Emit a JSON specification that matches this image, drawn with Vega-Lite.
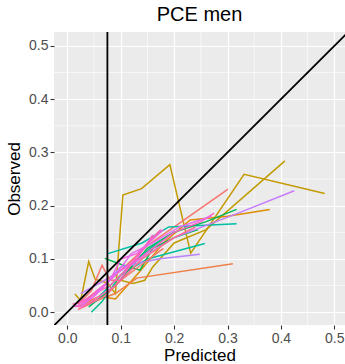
{
  "$schema": "https://vega.github.io/schema/vega-lite/v6.json",
  "width": 291,
  "height": 293,
  "autosize": {"type": "none"},
  "padding": {"left": 54, "top": 32, "right": 0, "bottom": 39},
  "background": "white",
  "title": {"text": "PCE men", "anchor": "middle", "frame": "group", "fontSize": 20, "font": "Liberation Sans", "fontWeight": "normal", "color": "black", "baseline": "alphabetic", "offset": -10},
  "config": {
    "view": {"fill": "#EBEBEB", "stroke": null},
    "axis": {"domain": false, "grid": true, "gridColor": "white", "gridWidth": 1.2, "tickColor": "#333333", "tickWidth": 1.1, "tickSize": 4, "labelColor": "#4D4D4D", "labelFont": "Liberation Sans", "labelFontSize": 14, "labelPadding": 2, "titleFont": "Liberation Sans", "titleFontSize": 17, "titleFontWeight": "normal", "titleColor": "black"}
  },
  "datasets": {
    "series": [
      {"g": "a", "x": 0.014, "y": 0.034}, {"g": "a", "x": 0.025, "y": 0.022}, {"g": "a", "x": 0.04, "y": 0.095}, {"g": "a", "x": 0.052, "y": 0.062}, {"g": "a", "x": 0.075, "y": 0.055}, {"g": "a", "x": 0.09, "y": 0.035}, {"g": "a", "x": 0.104, "y": 0.22}, {"g": "a", "x": 0.139, "y": 0.232}, {"g": "a", "x": 0.192, "y": 0.277}, {"g": "a", "x": 0.231, "y": 0.111}, {"g": "a", "x": 0.331, "y": 0.259}, {"g": "a", "x": 0.482, "y": 0.223},
      {"g": "b", "x": 0.03, "y": 0.01}, {"g": "b", "x": 0.07, "y": 0.03}, {"g": "b", "x": 0.1, "y": 0.06}, {"g": "b", "x": 0.123, "y": 0.054}, {"g": "b", "x": 0.145, "y": 0.06}, {"g": "b", "x": 0.16, "y": 0.085}, {"g": "b", "x": 0.2, "y": 0.13}, {"g": "b", "x": 0.26, "y": 0.155}, {"g": "b", "x": 0.4075, "y": 0.284},
      {"g": "c", "x": 0.02, "y": 0.01}, {"g": "c", "x": 0.06, "y": 0.03}, {"g": "c", "x": 0.09, "y": 0.025}, {"g": "c", "x": 0.13, "y": 0.07}, {"g": "c", "x": 0.18, "y": 0.13}, {"g": "c", "x": 0.23, "y": 0.173}, {"g": "c", "x": 0.3, "y": 0.18}, {"g": "c", "x": 0.379, "y": 0.193},
      {"g": "d", "x": 0.03, "y": 0.02}, {"g": "d", "x": 0.08, "y": 0.06}, {"g": "d", "x": 0.15, "y": 0.125}, {"g": "d", "x": 0.301, "y": 0.231},
      {"g": "e", "x": 0.02, "y": 0.01}, {"g": "e", "x": 0.05, "y": 0.02}, {"g": "e", "x": 0.09, "y": 0.035}, {"g": "e", "x": 0.13, "y": 0.064}, {"g": "e", "x": 0.31, "y": 0.091},
      {"g": "f", "x": 0.076, "y": 0.11}, {"g": "f", "x": 0.14, "y": 0.13}, {"g": "f", "x": 0.19, "y": 0.16}, {"g": "f", "x": 0.317, "y": 0.166},
      {"g": "h", "x": 0.06, "y": 0.03}, {"g": "h", "x": 0.1, "y": 0.07}, {"g": "h", "x": 0.15, "y": 0.1}, {"g": "h", "x": 0.2575, "y": 0.129},
      {"g": "i", "x": 0.04, "y": 0.01}, {"g": "i", "x": 0.09, "y": 0.05}, {"g": "i", "x": 0.15, "y": 0.12}, {"g": "i", "x": 0.2, "y": 0.15}, {"g": "i", "x": 0.26, "y": 0.17}, {"g": "i", "x": 0.317, "y": 0.193},
      {"g": "j", "x": 0.07, "y": 0.101}, {"g": "j", "x": 0.1, "y": 0.09}, {"g": "j", "x": 0.136, "y": 0.079}, {"g": "j", "x": 0.16, "y": 0.12}, {"g": "j", "x": 0.2, "y": 0.14}, {"g": "j", "x": 0.245, "y": 0.155},
      {"g": "k", "x": 0.045, "y": 0.0}, {"g": "k", "x": 0.065, "y": 0.02}, {"g": "k", "x": 0.1, "y": 0.07}, {"g": "k", "x": 0.13, "y": 0.1}, {"g": "k", "x": 0.175, "y": 0.135},
      {"g": "l", "x": 0.025, "y": 0.035}, {"g": "l", "x": 0.07, "y": 0.06}, {"g": "l", "x": 0.12, "y": 0.09}, {"g": "l", "x": 0.2, "y": 0.14}, {"g": "l", "x": 0.32, "y": 0.186}, {"g": "l", "x": 0.425, "y": 0.228},
      {"g": "m", "x": 0.02, "y": 0.015}, {"g": "m", "x": 0.06, "y": 0.04}, {"g": "m", "x": 0.1, "y": 0.085}, {"g": "m", "x": 0.17, "y": 0.1}, {"g": "m", "x": 0.248, "y": 0.109},
      {"g": "n", "x": 0.02, "y": 0.015}, {"g": "n", "x": 0.045, "y": 0.04}, {"g": "n", "x": 0.065, "y": 0.088}, {"g": "n", "x": 0.08, "y": 0.06}, {"g": "n", "x": 0.1, "y": 0.06}, {"g": "n", "x": 0.14, "y": 0.09}, {"g": "n", "x": 0.18, "y": 0.12},
      {"g": "o", "x": 0.012, "y": 0.012}, {"g": "o", "x": 0.03, "y": 0.01}, {"g": "o", "x": 0.06, "y": 0.03}, {"g": "o", "x": 0.09, "y": 0.05}, {"g": "o", "x": 0.12, "y": 0.09}, {"g": "o", "x": 0.16, "y": 0.12}, {"g": "o", "x": 0.2, "y": 0.15}, {"g": "o", "x": 0.25, "y": 0.17}, {"g": "o", "x": 0.275, "y": 0.186},
      {"g": "p", "x": 0.015, "y": 0.01}, {"g": "p", "x": 0.035, "y": 0.02}, {"g": "p", "x": 0.055, "y": 0.04}, {"g": "p", "x": 0.08, "y": 0.06}, {"g": "p", "x": 0.1, "y": 0.1}, {"g": "p", "x": 0.13, "y": 0.11}, {"g": "p", "x": 0.18, "y": 0.155},
      {"g": "q", "x": 0.02, "y": 0.005}, {"g": "q", "x": 0.04, "y": 0.015}, {"g": "q", "x": 0.07, "y": 0.03}, {"g": "q", "x": 0.1, "y": 0.06}, {"g": "q", "x": 0.14, "y": 0.1}, {"g": "q", "x": 0.2, "y": 0.14}, {"g": "q", "x": 0.24, "y": 0.16},
      {"g": "r", "x": 0.01, "y": 0.015}, {"g": "r", "x": 0.03, "y": 0.02}, {"g": "r", "x": 0.05, "y": 0.035}, {"g": "r", "x": 0.08, "y": 0.05}, {"g": "r", "x": 0.11, "y": 0.08}, {"g": "r", "x": 0.15, "y": 0.13}, {"g": "r", "x": 0.175, "y": 0.155},
      {"g": "s", "x": 0.02, "y": 0.02}, {"g": "s", "x": 0.045, "y": 0.025}, {"g": "s", "x": 0.07, "y": 0.05}, {"g": "s", "x": 0.095, "y": 0.075}, {"g": "s", "x": 0.13, "y": 0.1}, {"g": "s", "x": 0.16, "y": 0.145},
      {"g": "t", "x": 0.025, "y": 0.01}, {"g": "t", "x": 0.05, "y": 0.03}, {"g": "t", "x": 0.09, "y": 0.07}, {"g": "t", "x": 0.12, "y": 0.11}, {"g": "t", "x": 0.16, "y": 0.13}, {"g": "t", "x": 0.21, "y": 0.16}, {"g": "t", "x": 0.27, "y": 0.18}
    ],
    "diag": [{"x": -0.03, "y": -0.03}, {"x": 0.53, "y": 0.53}],
    "vline": [{"x": 0.075}],
    "minor": [{"v": 0.05}, {"v": 0.15}, {"v": 0.25}, {"v": 0.35}, {"v": 0.45}]
  },
  "layer": [
    {
      "data": {"name": "minor"},
      "mark": {"type": "rule", "color": "white", "strokeWidth": 0.6},
      "encoding": {"x": {"field": "v", "type": "quantitative"}}
    },
    {
      "data": {"name": "minor"},
      "mark": {"type": "rule", "color": "white", "strokeWidth": 0.6},
      "encoding": {"y": {"field": "v", "type": "quantitative"}}
    },
    {
      "data": {"name": "series"},
      "mark": {"type": "line", "strokeWidth": 1.5, "clip": true},
      "encoding": {
        "x": {"field": "x", "type": "quantitative", "scale": {"domain": [-0.025, 0.52], "nice": false, "zero": false}, "axis": {"values": [0, 0.1, 0.2, 0.3, 0.4, 0.5], "format": ".1f", "title": "Predicted", "titlePadding": 2}},
        "y": {"field": "y", "type": "quantitative", "scale": {"domain": [-0.024, 0.526], "nice": false, "zero": false}, "axis": {"values": [0, 0.1, 0.2, 0.3, 0.4, 0.5], "format": ".1f", "title": "Observed", "titlePadding": 5}},
        "color": {"field": "g", "type": "nominal", "legend": null, "scale": {
          "domain": ["a","b","c","d","e","f","h","i","j","k","l","m","n","o","p","q","r","s","t"],
          "range": ["#C49A00","#C09B00","#DE8C00","#F8766D","#EF7F49","#00BFA5","#00BFA0","#00B65C","#00B94E","#00C08B","#C77CFF","#B983FF","#F8766D","#FF61C3","#F564E3","#FF6C91","#FF64B0","#FD61D1","#E76BF3"]
        }}
      }
    },
    {
      "data": {"name": "diag"},
      "mark": {"type": "line", "color": "black", "strokeWidth": 1.8, "clip": true},
      "encoding": {"x": {"field": "x", "type": "quantitative"}, "y": {"field": "y", "type": "quantitative"}}
    },
    {
      "data": {"name": "vline"},
      "mark": {"type": "rule", "color": "black", "strokeWidth": 1.8},
      "encoding": {"x": {"field": "x", "type": "quantitative"}}
    }
  ]
}
